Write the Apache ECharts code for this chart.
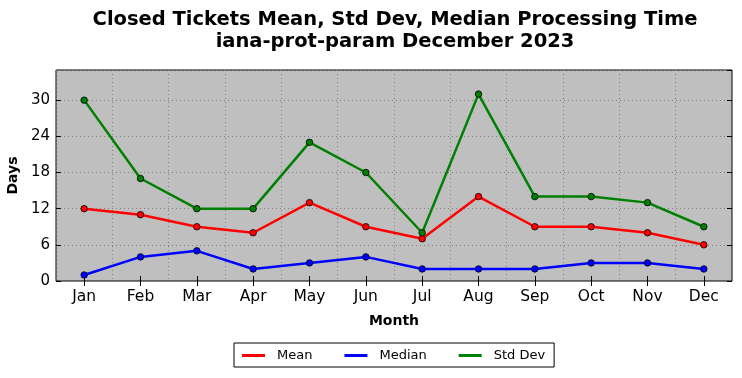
<!DOCTYPE html>
<html>
<head>
<meta charset="utf-8">
<script src="https://cdn.jsdelivr.net/npm/echarts@6/dist/echarts.min.js"></script>
<style>html,body{margin:0;padding:0;background:#fff}#c{width:742px;height:378px}</style>
</head>
<body>
<div id="c"></div>
<script>
var months = ['Jan','Feb','Mar','Apr','May','Jun','Jul','Aug','Sep','Oct','Nov','Dec'];
var meanValues = [12, 11, 9, 8, 13, 9, 7, 14, 9, 9, 8, 6];
var medianValues = [1, 4, 5, 2, 3, 4, 2, 2, 2, 3, 3, 2];
var stdValues = [30, 17, 12, 12, 23, 18, 8, 31, 14, 14, 13, 9];
var yTicks = [0, 6, 12, 18, 24, 30];

var FONT = 'DejaVu Sans';
var chart = echarts.init(document.getElementById('c'), null, {renderer: 'canvas'});

function mkSeries(name, data, color) {
  return {
    name: name, type: 'line', data: data,
    xAxisIndex: 0, yAxisIndex: 0,
    symbol: 'circle', symbolSize: 6.5,
    lineStyle: {color: color, width: 2.5},
    itemStyle: {color: color, borderColor: '#000', borderWidth: 0.8},
    emphasis: {disabled: true},
    animation: false, z: 3
  };
}

var yLabelFmt = function (v) { return yTicks.indexOf(v) >= 0 ? String(v) : ''; };

chart.setOption({
  animation: false,
  textStyle: {fontFamily: FONT},
  graphic: [{
    type: 'text', x: 395, y: 9,
    style: {
      text: 'Closed Tickets Mean, Std Dev, Median Processing Time\niana-prot-param December 2023',
      font: 'bold 19.5px "DejaVu Sans"', fill: '#000', align: 'center', verticalAlign: 'top',
      lineHeight: 22
    }
  }],
  grid: {left: 56, right: 10, top: 70, bottom: 97, show: true, outerBoundsMode: 'none', containLabel: false,
         backgroundColor: '#bfbfbf', borderColor: '#000', borderWidth: 1},
  xAxis: [{
    type: 'category', data: months, boundaryGap: true,
    name: 'Month', nameLocation: 'middle', nameGap: 33,
    nameTextStyle: {fontFamily: FONT, fontWeight: 'bold', fontSize: 14, color: '#000'},
    axisLine: {show: false},
    axisTick: {show: true, inside: true, length: 5, alignWithLabel: true, lineStyle: {color: '#000'}},
    axisLabel: {fontFamily: FONT, fontSize: 15.5, color: '#000', margin: 8, interval: 0},
    splitLine: {show: true, interval: 0, lineStyle: {color: '#808080', type: [1, 3], width: 1}}
  }, {
    type: 'category', data: months, boundaryGap: true, position: 'top',
    axisLine: {show: false},
    axisTick: {show: true, inside: true, length: 5, alignWithLabel: true, lineStyle: {color: '#000'}},
    axisLabel: {show: false}, splitLine: {show: false}
  }],
  yAxis: [{
    type: 'value', min: 0, max: 35, interval: 6,
    name: 'Days', nameLocation: 'middle', nameGap: 31, nameRotate: 90,
    nameTextStyle: {fontFamily: FONT, fontWeight: 'bold', fontSize: 14, color: '#000'},
    axisLine: {show: false},
    axisTick: {show: true, inside: true, length: 5, lineStyle: {color: '#000'}},
    axisLabel: {fontFamily: FONT, fontSize: 15, color: '#000', margin: 6, formatter: yLabelFmt, showMaxLabel: false},
    splitLine: {show: true, lineStyle: {color: '#808080', type: [1, 3], width: 1}}
  }, {
    type: 'value', min: 0, max: 35, interval: 6, position: 'right',
    axisLine: {show: false},
    axisTick: {show: true, inside: true, length: 5, lineStyle: {color: '#000'}},
    axisLabel: {show: false}, splitLine: {show: false}
  }],
  legend: {
    top: 343, left: 234,
    data: [{name: 'Mean'}, {name: 'Median'}, {name: 'Std Dev'}],
    icon: 'rect', itemWidth: 23, itemHeight: 3, itemGap: 32,
    itemStyle: {borderWidth: 0},
    borderColor: '#000', borderWidth: 1, borderRadius: 0,
    padding: [6, 9, 5, 8],
    textStyle: {fontFamily: FONT, fontSize: 13, color: '#000', padding: [0, 0, 0, 7]}
  },
  series: [
    mkSeries('Mean', meanValues, '#ff0000'),
    mkSeries('Median', medianValues, '#0000ff'),
    mkSeries('Std Dev', stdValues, '#008000')
  ]
});
</script>
</body>
</html>
